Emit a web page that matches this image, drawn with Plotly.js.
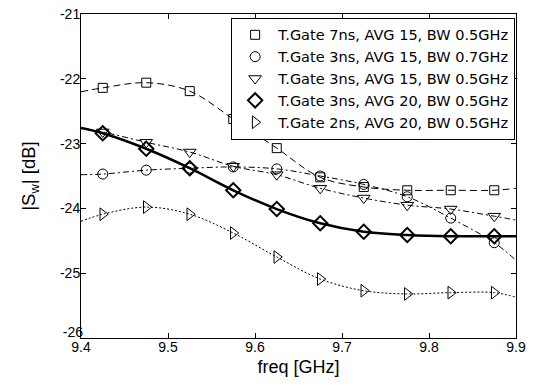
<!DOCTYPE html>
<html>
<head>
<meta charset="utf-8">
<script src="https://cdn.plot.ly/plotly-3.0.1.min.js"></script>
<style>html,body{margin:0;padding:0;background:#fff;}#chart{width:539px;height:390px;}</style>
</head>
<body>
<div id="chart"></div>
<script>
// Marker frequencies (GHz)
const freq = [9.425, 9.475, 9.525, 9.575, 9.625, 9.675, 9.725, 9.775, 9.825, 9.875];
// Curve end points at the plot edges
const edgeFreq = [9.4, 9.9];

const seriesNames = [
  "T.Gate 7ns, AVG 15, BW 0.5GHz",
  "T.Gate 3ns, AVG 15, BW 0.7GHz",
  "T.Gate 3ns, AVG 15, BW 0.5GHz",
  "T.Gate 3ns, AVG 20, BW 0.5GHz",
  "T.Gate 2ns, AVG 20, BW 0.5GHz"
];

// |S_w| [dB] at marker frequencies
const gate7Avg15Bw05 = [-22.14, -22.06, -22.19, -22.62, -23.07, -23.52, -23.67, -23.72, -23.72, -23.72];
const gate3Avg15Bw07 = [-23.47, -23.41, -23.38, -23.36, -23.39, -23.50, -23.63, -23.82, -24.15, -24.53];
const gate3Avg15Bw05 = [-22.82, -22.98, -23.13, -23.35, -23.48, -23.69, -23.84, -23.95, -24.01, -24.12];
const gate3Avg20Bw05 = [-22.84, -23.08, -23.38, -23.72, -24.01, -24.23, -24.36, -24.41, -24.43, -24.43];
const gate2Avg20Bw05 = [-24.09, -23.98, -24.09, -24.38, -24.75, -25.09, -25.27, -25.32, -25.30, -25.30];

// Curve values at the left / right plot edges
const edge7Avg15Bw05 = [-22.20, -23.69];
const edge3Avg15Bw07 = [-23.48, -24.80];
const edge3Avg15Bw05 = [-22.76, -24.18];
const edge3Avg20Bw05 = [-22.76, -24.43];
const edge2Avg20Bw05 = [-24.20, -25.37];

const xTicks = [9.4, 9.5, 9.6, 9.7, 9.8, 9.9];
const xTickText = ['9.4', '9.5', '9.6', '9.7', '9.8', '9.9'];
const yTicks = [-25, -24, -23, -22, -21];
const yTickText = ['-25', '-24', '-23', '-22', '-21'];
const yCornerTick = [-26];
const yCornerText = ['-26'];

const allValues = [gate7Avg15Bw05, gate3Avg15Bw07, gate3Avg15Bw05, gate3Avg20Bw05, gate2Avg20Bw05];
const allEdges = [edge7Avg15Bw05, edge3Avg15Bw07, edge3Avg15Bw05, edge3Avg20Bw05, edge2Avg20Bw05];

const styles = [
  {symbol: 'square-open', size: 9, mlw: 1, dash: '7px,4px', lw: 1},
  {symbol: 'circle-open', size: 10, mlw: 1, dash: '6px,3px,2px,3px', lw: 1},
  {symbol: 'triangle-down-open', size: 11, mlw: 1, dash: '6px,3px,2px,3px', lw: 1},
  {symbol: 'diamond-open', size: 11, mlw: 2, dash: 'solid', lw: 2.5},
  {symbol: 'triangle-right-open', size: 11, mlw: 1, dash: '2px,2px', lw: 1}
];

const traces = [];
allValues.forEach((vals, i) => {
  const xs = [edgeFreq[0]].concat(freq, [edgeFreq[1]]);
  const ys = [allEdges[i][0]].concat(vals, [allEdges[i][1]]);
  traces.push({
    x: xs, y: ys, type: 'scatter', mode: 'lines',
    line: {color: '#000', width: styles[i].lw, dash: styles[i].dash, shape: 'spline', smoothing: 1},
    showlegend: false, hoverinfo: 'skip'
  });
});
allValues.forEach((vals, i) => {
  traces.push({
    x: freq, y: vals, type: 'scatter', mode: 'markers', name: seriesNames[i],
    marker: {symbol: styles[i].symbol, size: styles[i].size, color: '#000',
             line: {color: '#000', width: styles[i].mlw}},
    hoverinfo: 'skip'
  });
});

const layout = {
  width: 539, height: 390,
  margin: {l: 81, r: 23, t: 14, b: 52},
  paper_bgcolor: '#fff', plot_bgcolor: '#fff',
  font: {family: 'Liberation Sans, Arial, Helvetica, sans-serif', size: 14, color: '#000'},
  showlegend: true,
  legend: {
    x: 0.998, xanchor: 'right', y: 0.988, yanchor: 'top',
    bgcolor: '#fff', bordercolor: '#000', borderwidth: 1,
    font: {family: 'DejaVu Sans, Verdana, sans-serif', size: 14.5, color: '#000'},
    traceorder: 'normal', itemwidth: 36
  },
  xaxis: {
    range: [9.4, 9.9], tickvals: xTicks, ticktext: xTickText,
    ticks: 'inside', ticklen: 5, tickcolor: '#000', tickwidth: 1,
    ticklabelstandoff: -4,
    showline: true, linecolor: '#000', linewidth: 1, mirror: 'ticks',
    showgrid: false, zeroline: false,
    title: {text: 'freq [GHz]', font: {size: 18}, standoff: 6}
  },
  yaxis: {
    range: [-26, -21], tickvals: yTicks, ticktext: yTickText,
    ticks: 'inside', ticklen: 5, tickcolor: '#000', tickwidth: 1,
    ticklabelstandoff: -3,
    showline: true, linecolor: '#000', linewidth: 1, mirror: 'ticks',
    showgrid: false, zeroline: false,
    title: {text: '|S<sub>w</sub>| [dB]', font: {size: 18.5}, standoff: 19}
  },
  yaxis2: {
    overlaying: 'y', side: 'left', anchor: 'x',
    range: [-26, -21], tickvals: yCornerTick, ticktext: yCornerText,
    ticks: 'inside', ticklen: 5, tickcolor: '#000', ticklabelstandoff: -3, ticklabelshift: -6,
    showline: false, showgrid: false, zeroline: false
  }
};

// invisible trace to keep the corner-label axis active
traces.push({x: [9.4], y: [-26], yaxis: 'y2', type: 'scatter', mode: 'markers',
             marker: {opacity: 0}, showlegend: false, hoverinfo: 'skip'});

Plotly.newPlot('chart', traces, layout, {staticPlot: true, displayModeBar: false});
</script>
</body>
</html>
